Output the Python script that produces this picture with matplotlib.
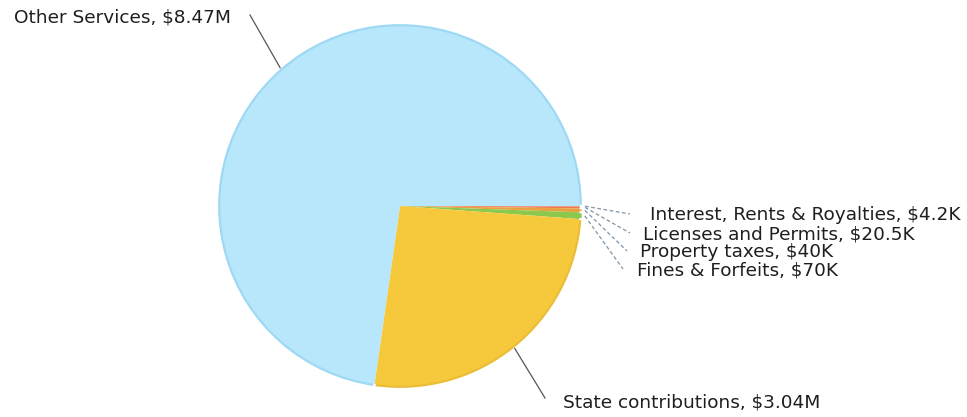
import numpy as np
import matplotlib
matplotlib.use("Agg")
import matplotlib.pyplot as plt

# Data (clockwise from 3 o'clock)
categories = ["Interest, Rents & Royalties", "Licenses and Permits", "Property taxes",
              "Fines & Forfeits", "State contributions", "Other Services"]
values = [4.2e3, 20.5e3, 40e3, 70e3, 3.04e6, 8.47e6]
value_labels = ["$4.2K", "$20.5K", "$40K", "$70K", "$3.04M", "$8.47M"]
colors = ["#b0a8d8", "#f07a50", "#e8a040", "#8cc84b", "#f6c93c", "#b8e6fb"]
rim_colors = ["#b0a8d8", "#f07a50", "#e8a040", "#8cc84b", "#ebbd36", "#9dd8f5"]

W, H = 967, 417
fig = plt.figure(figsize=(W / 100, H / 100), dpi=100)
ax = fig.add_axes([0, 0, 1, 1])

cx, cy, r = 400, H - 206, 183

# rim (slightly darker) then inner lighter fill for a shaded look
ax.pie(values, colors=rim_colors, startangle=0, counterclock=False,
       center=(cx, cy), radius=r, frame=True,
       wedgeprops=dict(edgecolor="white", linewidth=1.6))
ax.pie(values, colors=colors, startangle=0, counterclock=False,
       center=(cx, cy), radius=r * 0.982, frame=True,
       wedgeprops=dict(edgecolor="none", linewidth=0))
ax.set_xlim(0, W)
ax.set_ylim(0, H)
ax.set_aspect("equal")
ax.axis("off")

total = sum(values)
angles = []
a = 0.0
for v in values:
    span = 360 * v / total
    angles.append(-(a + span / 2))
    a += span

txt_kw = dict(fontsize=13.3, color="#1e1e1e", family="DejaVu Sans")

# label positions (pixel coords from top-left) and leader end points
label_pos = [(650, 215), (643, 234), (640, 252), (637, 270), (563, 402), (14, 17)]
leader_end = [(630, 214), (630, 233), (627, 251), (623, 269), (545, 398), (250, 15)]

for i, (cat, vl) in enumerate(zip(categories, value_labels)):
    th = np.deg2rad(angles[i])
    ex, ey = cx + r * np.cos(th), cy + r * np.sin(th)
    lx, ly = leader_end[i]
    if i < 4:
        ax.plot([ex + 2, lx], [ey, H - ly], color="#7f95a8", lw=0.9,
                ls=(0, (3, 2)))
    else:
        ax.plot([ex, lx], [ey, H - ly], color="#555555", lw=0.9)
    px, py = label_pos[i]
    ax.text(px, H - py, f"{cat}, {vl}", ha="left", va="center", **txt_kw)

fig.savefig("out.png", dpi=100)
